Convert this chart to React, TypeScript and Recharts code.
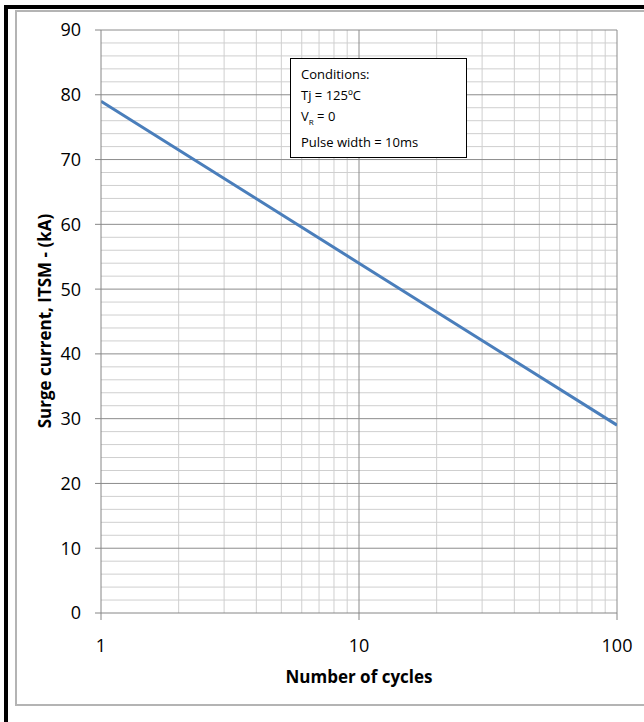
import React from "react";
import { LineChart, Line, XAxis, YAxis, ReferenceLine } from "recharts";

// Surge current vs number of cycles (log scale)
const cycles = [1, 10, 100];
const surgeKA = [79, 54, 29];

const xTicks = [1, 10, 100];
const yTicks = [0, 10, 20, 30, 40, 50, 60, 70, 80, 90];
const xMinor = [2, 3, 4, 5, 6, 7, 8, 9, 20, 30, 40, 50, 60, 70, 80, 90];
const xMajor = [10, 100];
const yMinor = [2, 4, 6, 8, 12, 14, 16, 18, 22, 24, 26, 28, 32, 34, 36, 38, 42, 44, 46, 48, 52, 54, 56, 58, 62, 64, 66, 68, 72, 74, 76, 78, 82, 84, 86, 88];
const yMajor = [10, 20, 30, 40, 50, 60, 70, 80, 90];

const conditions = ["Conditions:", "Tj = 125ºC"];
const pulseLine = "Pulse width = 10ms";

const data = cycles.map((c, i) => ({ cycles: c, surge: surgeKA[i] }));

const FONT = "'Open Sans', 'Noto Sans', sans-serif";
const MAJOR = "#8c8c8c";
const MINOR = "#cfcfcf";
const AXIS = "#868686";

export default function App() {
  return (
    <div style={{ position: "absolute", left: 0, top: 0, width: 644, height: 722, background: "#fff", overflow: "hidden", fontFamily: FONT }}>
      {/* outer frame */}
      <div style={{ position: "absolute", left: 4, top: 5, width: 640, height: 4, background: "#000" }} />
      <div style={{ position: "absolute", left: 4, top: 5, width: 4, height: 717, background: "#000" }} />
      <div style={{ position: "absolute", left: 15, top: 10, width: 700, height: 696, border: "2px solid #b4b4b4", boxSizing: "border-box" }} />

      <div style={{ position: "absolute", left: 0, top: 0 }}>
        <LineChart width={644} height={722} data={data} margin={{ top: 30, right: 27, bottom: 79, left: 41 }}>
          <XAxis
            dataKey="cycles"
            type="number"
            scale="log"
            domain={[1, 100]}
            ticks={xTicks}
            allowDataOverflow
            axisLine={{ stroke: AXIS }}
            tickLine={{ stroke: AXIS }}
            tickSize={7}
            tickMargin={19}
            height={30}
            tick={{ fill: "#000", fontSize: 18, fontFamily: FONT }}
          />
          <YAxis
            type="number"
            domain={[0, 90]}
            ticks={yTicks}
            width={60}
            axisLine={{ stroke: AXIS }}
            tickLine={{ stroke: AXIS }}
            tickSize={6}
            tickMargin={14}
            tick={{ fill: "#000", fontSize: 18, fontFamily: FONT }}
          />
          {xMinor.map((v) => (
            <ReferenceLine key={"xm" + v} x={v} stroke={MINOR} strokeWidth={1} />
          ))}
          {yMinor.map((v) => (
            <ReferenceLine key={"ym" + v} y={v} stroke={MINOR} strokeWidth={1} />
          ))}
          {xMajor.map((v) => (
            <ReferenceLine key={"xM" + v} x={v} stroke={MAJOR} strokeWidth={1} />
          ))}
          {yMajor.map((v) => (
            <ReferenceLine key={"yM" + v} y={v} stroke={MAJOR} strokeWidth={1} />
          ))}
          <Line
            dataKey="surge"
            stroke="#4a7ebb"
            strokeWidth={3}
            dot={false}
            isAnimationActive={false}
          />
        </LineChart>
      </div>

      {/* axis titles */}
      <div style={{ position: "absolute", left: 259, top: 666, width: 200, textAlign: "center", fontWeight: 700, fontSize: 17, lineHeight: "22px" }}>
        Number of cycles
      </div>
      <div style={{ position: "absolute", left: 45 - 150, top: 321 - 11, width: 300, textAlign: "center", fontWeight: 700, fontSize: 17, lineHeight: "22px", transform: "rotate(-90deg)" }}>
        Surge current, ITSM - (kA)
      </div>

      {/* conditions box */}
      <div style={{ position: "absolute", left: 290, top: 58, width: 177, height: 100, border: "1px solid #000", boxSizing: "border-box", background: "#fff", padding: "5px 0 0 10px", fontSize: 13, lineHeight: "21px", color: "#000" }}>
        {conditions.map((c) => (
          <div key={c}>{c}</div>
        ))}
        <div>
          V<sub style={{ fontSize: 8 }}>R</sub> = 0
        </div>
        <div>{pulseLine}</div>
      </div>
    </div>
  );
}
